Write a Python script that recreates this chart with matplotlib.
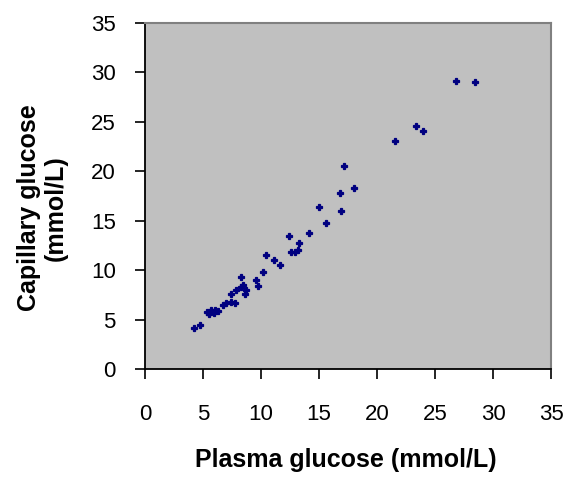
import matplotlib
matplotlib.use("Agg")
import matplotlib.pyplot as plt

# plasma vs capillary glucose
plasma = [4.24, 4.73, 5.33, 5.68, 5.93, 6.28, 5.5, 6.0, 6.73, 7.02, 7.45, 7.80,
          7.45, 7.88, 8.31, 8.74, 8.60, 8.25, 8.45, 9.60, 9.74, 10.17,
          10.46, 11.12, 11.61, 12.41, 12.90, 13.18, 13.27, 12.55, 14.13,
          15.62, 14.99, 16.92, 16.85, 18.0, 17.14, 21.58, 23.36, 23.93,
          26.80, 28.46]
capillary = [4.12, 4.45, 5.77, 5.97, 5.66, 5.87, 5.6, 6.0, 6.47, 6.65, 6.81, 6.68,
             7.59, 7.99, 8.32, 7.99, 7.59, 9.28, 8.50, 9.00, 8.40, 9.84,
             11.53, 11.03, 10.52, 13.48, 11.87, 12.04, 12.71, 11.83, 13.73,
             14.74, 16.42, 15.98, 17.77, 18.28, 20.53, 23.07, 24.61, 24.07,
             29.13, 29.06]
ticks = [0, 5, 10, 15, 20, 25, 30, 35]

plt.rcParams['font.family'] = ['Liberation Sans', 'DejaVu Sans']

fig = plt.figure(figsize=(5.67, 4.78), dpi=100)
ax = fig.add_axes([145/567, 1-369/478, 406/567, 346/478])
ax.set_facecolor('#C0C0C0')

# small filled blobs like the old Excel markers
ax.plot(plasma, capillary, linestyle='none', marker='P', markersize=5,
        color='#000080', markeredgecolor='#000080', markeredgewidth=0.9)

ax.set_xlim(0, 35)
ax.set_ylim(0, 35)
ax.set_xticks(ticks)
ax.set_yticks(ticks)
ax.tick_params(axis='x', direction='out', length=7, width=1.2, pad=18, labelsize=16)
ax.tick_params(axis='y', direction='out', length=7, width=1.2, pad=14, labelsize=16)

for s in ['left', 'bottom']:
    ax.spines[s].set_color('black')
    ax.spines[s].set_linewidth(1.3)
for s in ['top', 'right']:
    ax.spines[s].set_color('#808080')
    ax.spines[s].set_linewidth(1.5)

fig.text(346/567, 1-460/478, "Plasma glucose (mmol/L)", ha='center', va='center',
         fontsize=18, fontweight='bold')
fig.text(42/567, 1-208/478, "Capillary glucose\n(mmol/L)", ha='center', va='center',
         rotation=90, fontsize=18, fontweight='bold', multialignment='center',
         linespacing=1.15)

fig.savefig("out.png", dpi=100)
